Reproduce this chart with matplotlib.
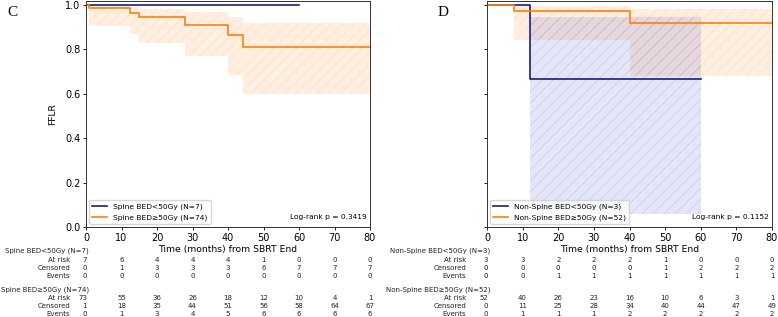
import matplotlib
matplotlib.use("Agg")
import matplotlib.pyplot as plt
from matplotlib.transforms import blended_transform_factory, offset_copy
import numpy as np

# ---------------- data ----------------
# Panel C (Spine)
c_lo_t = [0, 60]
c_lo_s = [1.0, 1.0]
c_hi_t = [0, 0.9, 12.4, 15.0, 28.0, 39.9, 44.3, 80]
c_hi_s = [1.0, 0.985, 0.965, 0.944, 0.911, 0.866, 0.811, 0.811]
c_hi_ci_t = [0.9, 12.4, 15.0, 28.0, 39.9, 44.3, 80]
c_hi_ci_lo = [0.903, 0.868, 0.830, 0.769, 0.685, 0.597, 0.597]
c_hi_ci_up = [0.993, 0.990, 0.982, 0.967, 0.947, 0.918, 0.918]

# Panel D (Non-Spine)
d_lo_t = [0, 12.1, 60]
d_lo_s = [1.0, 0.667, 0.667]
d_lo_ci_t = [12.1, 60]
d_lo_ci_lo = [0.057, 0.057]
d_lo_ci_up = [0.947, 0.947]
d_hi_t = [0, 7.6, 40.1, 80]
d_hi_s = [1.0, 0.974, 0.917, 0.917]
d_hi_ci_t = [7.6, 40.1, 80]
d_hi_ci_lo = [0.842, 0.680, 0.680]
d_hi_ci_up = [0.995, 0.980, 0.980]

table_times = [0, 10, 20, 30, 40, 50, 60, 70, 80]
row_names = ["At risk", "Censored", "Events"]

c_lo_label = "Spine BED<50Gy (N=7)"
c_hi_label = "Spine BED\u226550Gy (N=74)"
d_lo_label = "Non-Spine BED<50Gy (N=3)"
d_hi_label = "Non-Spine BED\u226550Gy (N=52)"

c_lo_risk = [7, 6, 4, 4, 4, 1, 0, 0, 0]
c_lo_cens = [0, 1, 3, 3, 3, 6, 7, 7, 7]
c_lo_evt = [0, 0, 0, 0, 0, 0, 0, 0, 0]
c_hi_risk = [73, 55, 36, 26, 18, 12, 10, 4, 1]
c_hi_cens = [1, 18, 35, 44, 51, 56, 58, 64, 67]
c_hi_evt = [0, 1, 3, 4, 5, 6, 6, 6, 6]

d_lo_risk = [3, 3, 2, 2, 2, 1, 0, 0, 0]
d_lo_cens = [0, 0, 0, 0, 0, 1, 2, 2, 2]
d_lo_evt = [0, 0, 1, 1, 1, 1, 1, 1, 1]
d_hi_risk = [52, 40, 26, 23, 16, 10, 6, 3, 1]
d_hi_cens = [0, 11, 25, 28, 34, 40, 44, 47, 49]
d_hi_evt = [0, 1, 1, 1, 2, 2, 2, 2, 2]

c_p = "Log-rank p = 0.3419"
d_p = "Log-rank p = 0.1152"

NAVY = "#1c1c7e"
ORANGE = "#ff7f0e"

plt.rcParams["hatch.linewidth"] = 0.5

W, H = 778, 317
fig = plt.figure(figsize=(W / 100, H / 100), dpi=100)

def px_axes(l, r, t, b):
    return fig.add_axes([l / W, 1 - b / H, (r - l) / W, (b - t) / H])

axC = px_axes(86, 370, 0.5, 227)
axD = px_axes(487, 772, 0.5, 227)

def band(ax, t, lo, up, color, fa, ea):
    ax.fill_between(t, lo, up, step="post", facecolor=matplotlib.colors.to_rgba(color, fa),
                    edgecolor=matplotlib.colors.to_rgba(color, ea), hatch="///", linewidth=0)

def curve(ax, t, s, color, label):
    ax.step(t, s, where="post", color=color, lw=1.2, label=label)

band(axC, c_hi_ci_t, c_hi_ci_lo, c_hi_ci_up, ORANGE, 0.12, 0.16)
curve(axC, c_lo_t, c_lo_s, NAVY, c_lo_label)
curve(axC, c_hi_t, c_hi_s, ORANGE, c_hi_label)

band(axD, d_hi_ci_t, d_hi_ci_lo, d_hi_ci_up, ORANGE, 0.12, 0.16)
band(axD, d_lo_ci_t, d_lo_ci_lo, d_lo_ci_up, "#3a3ad0", 0.13, 0.15)
curve(axD, d_lo_t, d_lo_s, NAVY, d_lo_label)
curve(axD, d_hi_t, d_hi_s, ORANGE, d_hi_label)

for ax, ptxt in ((axC, c_p), (axD, d_p)):
    ax.set_xlim(0, 80)
    ax.set_ylim(0, 1.02)
    ax.set_xticks(table_times)
    ax.set_yticks([0, 0.2, 0.4, 0.6, 0.8, 1.0])
    ax.tick_params(labelsize=7, length=2.5, width=0.6, pad=1.5)
    for sp in ax.spines.values():
        sp.set_linewidth(0.7)
        sp.set_color("#333333")
    ax.set_xlabel("Time (months) from SBRT End", fontsize=6.7, labelpad=2)
    ax.legend(loc="lower left", fontsize=5.4, handlelength=2.0, borderaxespad=0.45,
              framealpha=0.8)
    ax.text(0.988, 0.045, ptxt, transform=ax.transAxes, ha="right", va="center", fontsize=5.4)

axC.set_ylabel("FFLR", fontsize=6.6)
axC.yaxis.set_label_coords(-0.102, 0.5)
axD.tick_params(labelleft=False)

fig.text(12 / W, 1 - 13 / H, "C", family="Liberation Serif", fontsize=11, ha="center", va="center")
fig.text(443 / W, 1 - 13 / H, "D", family="Liberation Serif", fontsize=11, ha="center", va="center")

# ---------------- at-risk tables ----------------
FS = 5.0
def table(ax, label_off_px, groups):
    tr = blended_transform_factory(ax.transData, fig.transFigure)
    pt = 72 / 100.0
    tr_head = offset_copy(tr, fig=fig, x=3 * pt, y=0, units="points")
    tr_row = offset_copy(tr, fig=fig, x=-label_off_px * pt, y=0, units="points")
    tr_first = offset_copy(tr, fig=fig, x=1 * pt, y=0, units="points")
    for (label, rows, ys) in groups:
        hy, ry = ys
        fig.text(0, 1 - hy / H, label, transform=tr_head, ha="right", va="center",
                 fontsize=FS, color="#222222")
        for name, vals, y in zip(row_names, rows, ry):
            fig.text(0, 1 - y / H, name, transform=tr_row, ha="right", va="center",
                     fontsize=FS, color="#222222")
            for i, (tt, v) in enumerate(zip(table_times, vals)):
                if i == 0:
                    fig.text(tt, 1 - y / H, str(v), transform=tr_first, ha="right",
                             va="center", fontsize=FS, color="#222222")
                else:
                    fig.text(tt, 1 - y / H, str(v), transform=tr, ha="center",
                             va="center", fontsize=FS, color="#222222")

y1 = (250.5, [259.5, 267.7, 275.7])
y2 = (289.3, [298.0, 306.0, 314.0])
table(axC, 16, [(c_lo_label, [c_lo_risk, c_lo_cens, c_lo_evt], y1),
                (c_hi_label, [c_hi_risk, c_hi_cens, c_hi_evt], y2)])
table(axD, 21, [(d_lo_label, [d_lo_risk, d_lo_cens, d_lo_evt], y1),
                (d_hi_label, [d_hi_risk, d_hi_cens, d_hi_evt], y2)])

fig.savefig("out.png", dpi=100)
